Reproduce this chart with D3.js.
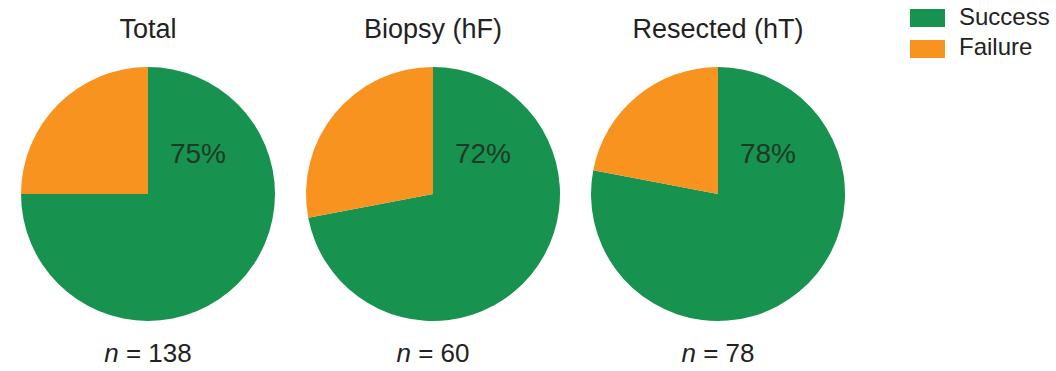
<!DOCTYPE html>
<html>
<head>
<meta charset="utf-8">
<script src="https://cdn.jsdelivr.net/npm/d3@7"></script>
<style>
  html, body { margin: 0; padding: 0; background: #fff; }
  svg { display: block; font-family: "Liberation Sans", Arial, Helvetica, sans-serif; }
</style>
</head>
<body>
<svg id="chart" width="1056" height="371"></svg>
<script>
const groups = ["Total", "Biopsy (hF)", "Resected (hT)"];
const successPct = [75, 72, 78];
const failurePct = [25, 28, 22];
const counts = [138, 60, 78];
const outcomes = ["Success", "Failure"];
const colors = ["#17924f", "#f7931e"];

const svg = d3.select("#chart");
const x = d3.scalePoint().domain(groups).range([148, 718]);
const cy = 194, r = 127;
const color = d3.scaleOrdinal().domain(outcomes).range(colors);
const pie = d3.pie().sort(null).value(d => d.value);
const arc = d3.arc().innerRadius(0).outerRadius(r);

groups.forEach((g, i) => {
  const data = [
    { key: "Success", value: successPct[i] },
    { key: "Failure", value: failurePct[i] }
  ];
  const cx = x(g);
  const gEl = svg.append("g").attr("transform", `translate(${cx},${cy})`);
  gEl.selectAll("path").data(pie(data)).join("path")
    .attr("d", arc)
    .attr("fill", d => color(d.data.key));

  gEl.append("text")
    .attr("x", 50).attr("y", -31)
    .attr("text-anchor", "middle")
    .attr("font-size", 28)
    .attr("fill", "#1d3a27")
    .text(successPct[i] + "%");

  svg.append("text")
    .attr("x", cx).attr("y", 38)
    .attr("text-anchor", "middle")
    .attr("font-size", 27)
    .attr("fill", "#222")
    .text(g);

  const t = svg.append("text")
    .attr("x", cx).attr("y", 362)
    .attr("text-anchor", "middle")
    .attr("font-size", 26)
    .attr("fill", "#222");
  t.append("tspan").attr("font-style", "italic").text("n");
  t.append("tspan").text(" = " + counts[i]);
});

const legend = svg.append("g");
outcomes.forEach((o, i) => {
  legend.append("rect")
    .attr("x", 910).attr("y", 9 + i * 31)
    .attr("width", 35).attr("height", 18)
    .attr("fill", color(o));
  legend.append("text")
    .attr("x", 959).attr("y", 25 + i * 30)
    .attr("font-size", 24)
    .attr("fill", "#222")
    .text(o);
});
</script>
</body>
</html>
